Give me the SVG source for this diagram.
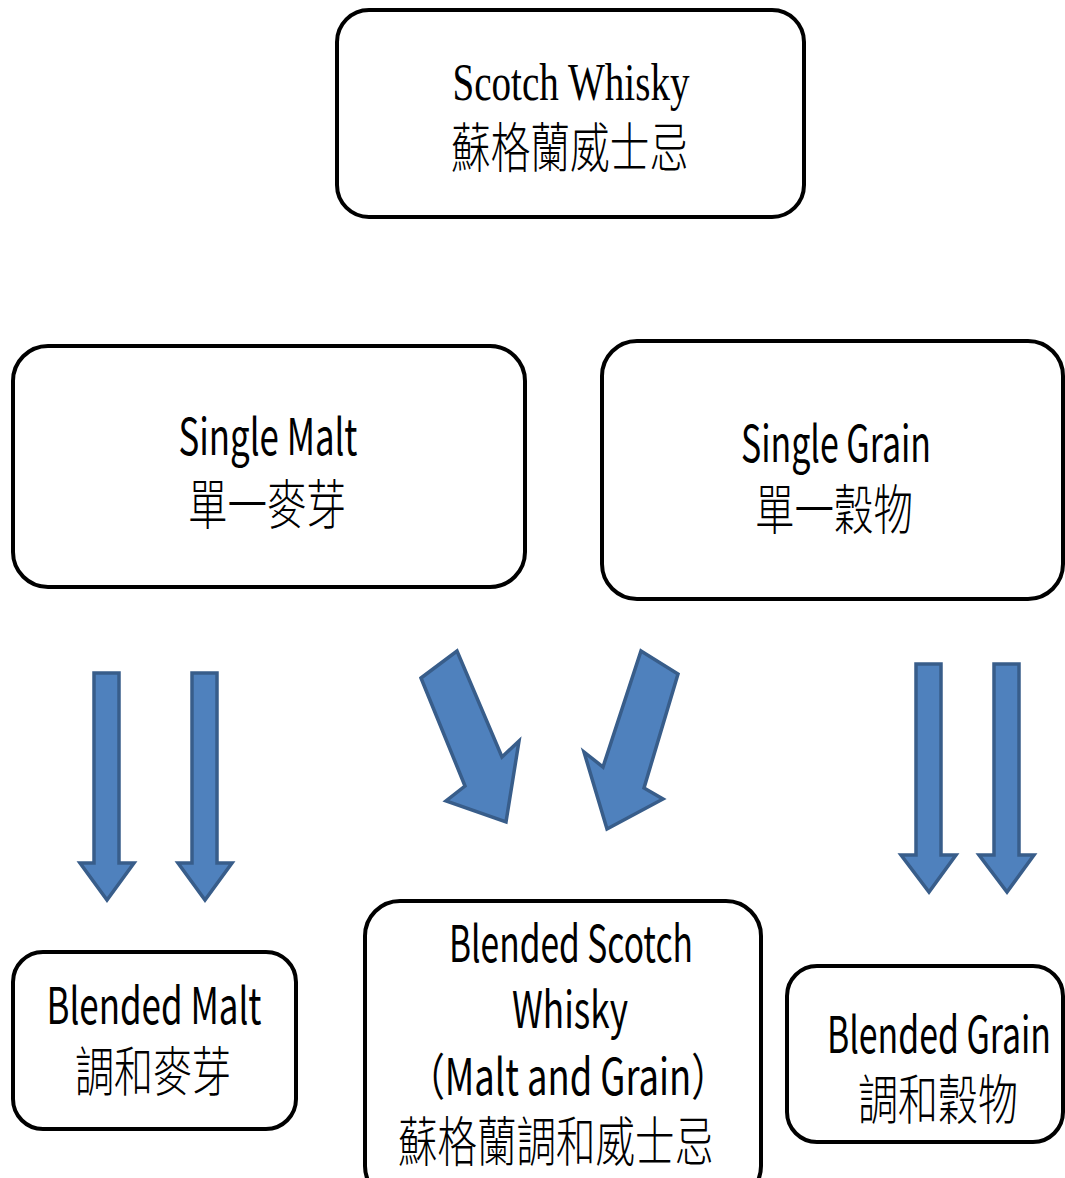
<svg xmlns="http://www.w3.org/2000/svg" width="1065" height="1178" viewBox="0 0 1065 1178">
<style>
.box{fill:#ffffff;stroke:#000000;stroke-width:4}
.arr{fill:#4F81BD;stroke:#385D8A;stroke-width:3.5;stroke-linejoin:miter}
.lat{font-family:"Noto Sans CJK TC","Noto Sans",sans-serif;font-size:50px;fill:#000;text-anchor:middle}
.cjk{font-family:"Noto Sans CJK TC",sans-serif;font-size:54px;font-weight:300;fill:#000;text-anchor:middle}
.ser{font-family:"Liberation Serif","Times New Roman",serif;font-size:53px;fill:#000;text-anchor:middle}
</style>
<rect width="1065" height="1178" fill="#ffffff"/>
<g id="connectors">
<polygon class="arr" points="94,673 119,673 119,863 134,863 107,900 80,863 94,863"/>
<polygon class="arr" points="192,673 217,673 217,863 232,863 205,900 178,863 192,863"/>
<polygon class="arr" points="916,664 941,664 941,855 956,855 929,892 901,855 916,855"/>
<polygon class="arr" points="994,664 1019,664 1019,855 1034,855 1007,892 979,855 994,855"/>
<polygon class="arr" points="421,678 457,651 502,757 519,741 506,822 446,801 465,786"/>
<polygon class="arr" points="641,651 678,674 644,788 663,799 607,829 584,752 603,767"/>
</g>
<g id="scotch">
<rect class="box" x="337" y="10" width="467" height="207" rx="32"/>
<text class="ser" x="571" y="100" textLength="237" lengthAdjust="spacingAndGlyphs">Scotch Whisky</text>
<text class="cjk" x="570" y="168" textLength="238" lengthAdjust="spacingAndGlyphs">蘇格蘭威士忌</text>
</g>
<g id="single-malt">
<rect class="box" x="13" y="346" width="512" height="241" rx="35"/>
<text class="lat" x="268" y="455" textLength="179" lengthAdjust="spacingAndGlyphs">Single Malt</text>
<text class="cjk" x="267" y="525" textLength="158" lengthAdjust="spacingAndGlyphs">單一麥芽</text>
</g>
<g id="single-grain">
<rect class="box" x="602" y="341" width="461" height="258" rx="35"/>
<text class="lat" x="836" y="462" textLength="190" lengthAdjust="spacingAndGlyphs">Single Grain</text>
<text class="cjk" x="834" y="530" textLength="158" lengthAdjust="spacingAndGlyphs">單一穀物</text>
</g>
<g id="blended-malt">
<rect class="box" x="13" y="952" width="283" height="177" rx="30"/>
<text class="lat" x="154" y="1024" textLength="215" lengthAdjust="spacingAndGlyphs">Blended Malt</text>
<text class="cjk" x="153" y="1092" textLength="156" lengthAdjust="spacingAndGlyphs">調和麥芽</text>
</g>
<g id="blended-scotch">
<rect class="box" x="365" y="901" width="396" height="300" rx="35"/>
<text class="lat" x="571" y="962" textLength="244" lengthAdjust="spacingAndGlyphs">Blended Scotch</text>
<text class="lat" x="570" y="1028" textLength="116" lengthAdjust="spacingAndGlyphs">Whisky</text>
<text class="lat" x="568" y="1095" textLength="319" lengthAdjust="spacingAndGlyphs">（Malt and Grain）</text>
<text class="cjk" x="556" y="1162" textLength="316" lengthAdjust="spacingAndGlyphs">蘇格蘭調和威士忌</text>
</g>
<g id="blended-grain">
<rect class="box" x="787" y="966" width="276" height="176" rx="30"/>
<text class="lat" x="939" y="1053" textLength="224" lengthAdjust="spacingAndGlyphs">Blended Grain</text>
<text class="cjk" x="938" y="1120" textLength="160" lengthAdjust="spacingAndGlyphs">調和穀物</text>
</g>
</svg>
